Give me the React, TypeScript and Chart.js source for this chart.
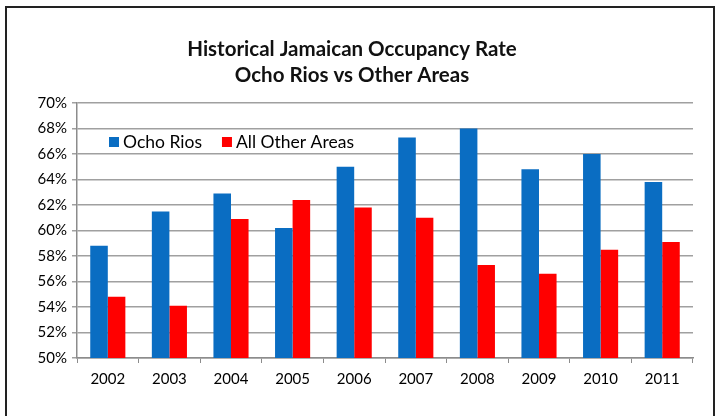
import React, { useEffect, useRef } from "react";
import { Chart, registerables } from "chart.js";

Chart.register(...registerables);

const TITLE_LINES = ["Historical Jamaican Occupancy Rate", "Ocho Rios vs Other Areas"];
const YEARS = ["2002", "2003", "2004", "2005", "2006", "2007", "2008", "2009", "2010", "2011"];
const OCHO_RIOS = [58.8, 61.5, 62.9, 60.2, 65.0, 67.3, 68.0, 64.8, 66.0, 63.8];
const ALL_OTHER = [54.8, 54.1, 60.9, 62.4, 61.8, 61.0, 57.3, 56.6, 58.5, 59.1];
const SERIES_NAMES = ["Ocho Rios", "All Other Areas"];
const SERIES_COLORS = ["#0A6DC2", "#FF0000"];

const FONT = "Lato, 'Open Sans', sans-serif";

const titlePlugin = {
  id: "customTitle",
  afterDraw(chart: any) {
    const ctx = chart.ctx;
    ctx.save();
    ctx.fillStyle = "#111";
    ctx.font = `bold 20.5px ${FONT}`;
    ctx.textAlign = "center";
    ctx.textBaseline = "middle";
    const cx = chart.width / 2 - 7;
    TITLE_LINES.forEach((t, i) => ctx.fillText(t, cx, 49 + i * 26));
    ctx.restore();
  },
};

const legendPlugin = {
  id: "insideLegend",
  afterDraw(chart: any) {
    const ctx = chart.ctx;
    const area = chart.chartArea;
    ctx.save();
    ctx.font = `17.5px ${FONT}`;
    ctx.textBaseline = "middle";
    let x = area.left + 32;
    const y = area.top + 39;
    chart.data.datasets.forEach((ds: any) => {
      ctx.fillStyle = ds.backgroundColor;
      ctx.fillRect(x, y - 5, 10, 10);
      ctx.fillStyle = "#000";
      ctx.fillText(ds.label, x + 14, y);
      x += 14 + ctx.measureText(ds.label).width + 20;
    });
    ctx.restore();
  },
};

export default function App() {
  const ref = useRef<HTMLCanvasElement>(null);
  useEffect(() => {
    if (!ref.current) return;
    const chart = new Chart(ref.current, {
      type: "bar",
      data: {
        labels: YEARS,
        datasets: [
          { label: SERIES_NAMES[0], data: OCHO_RIOS, backgroundColor: SERIES_COLORS[0] },
          { label: SERIES_NAMES[1], data: ALL_OTHER, backgroundColor: SERIES_COLORS[1] },
        ],
      },
      options: {
        responsive: false,
        animation: false,
        layout: { padding: { top: 103, right: 25, bottom: 0, left: 0 } },
        datasets: { bar: { categoryPercentage: 0.57, barPercentage: 1 } },
        plugins: { legend: { display: false }, title: { display: false }, tooltip: { enabled: false } },
        scales: {
          x: {
            afterFit: (s: any) => { s.height = 58; },
            grid: { drawOnChartArea: false, drawTicks: true, tickLength: 5, color: "#8c8c8c", offset: true },
            border: { display: true, color: "#8c8c8c", width: 1.5 },
            ticks: { color: "#000", font: { family: FONT, size: 15 }, padding: 7 },
          },
          y: {
            min: 50,
            max: 70,
            afterFit: (s: any) => { s.width = 77; },
            grid: { color: "#a0a0a0", lineWidth: 1.5, tickLength: 5 },
            border: { display: true, color: "#8c8c8c", width: 1.5 },
            ticks: {
              stepSize: 2,
              color: "#000",
              font: { family: FONT, size: 15 },
              padding: 5,
              callback: (v: any) => v + "%",
            },
          },
        },
      },
      plugins: [titlePlugin, legendPlugin],
    });
    return () => chart.destroy();
  }, []);
  return (
    <div style={{ position: "absolute", left: 0, top: 0, width: 718, height: 416, overflow: "hidden", background: "#fff" }}>
      <div style={{ position: "absolute", left: 5, top: 6, width: 706, height: 440, border: "2px solid #222" }} />
      <canvas ref={ref} width={718} height={416} style={{ position: "absolute", left: 0, top: 0 }} />
    </div>
  );
}
